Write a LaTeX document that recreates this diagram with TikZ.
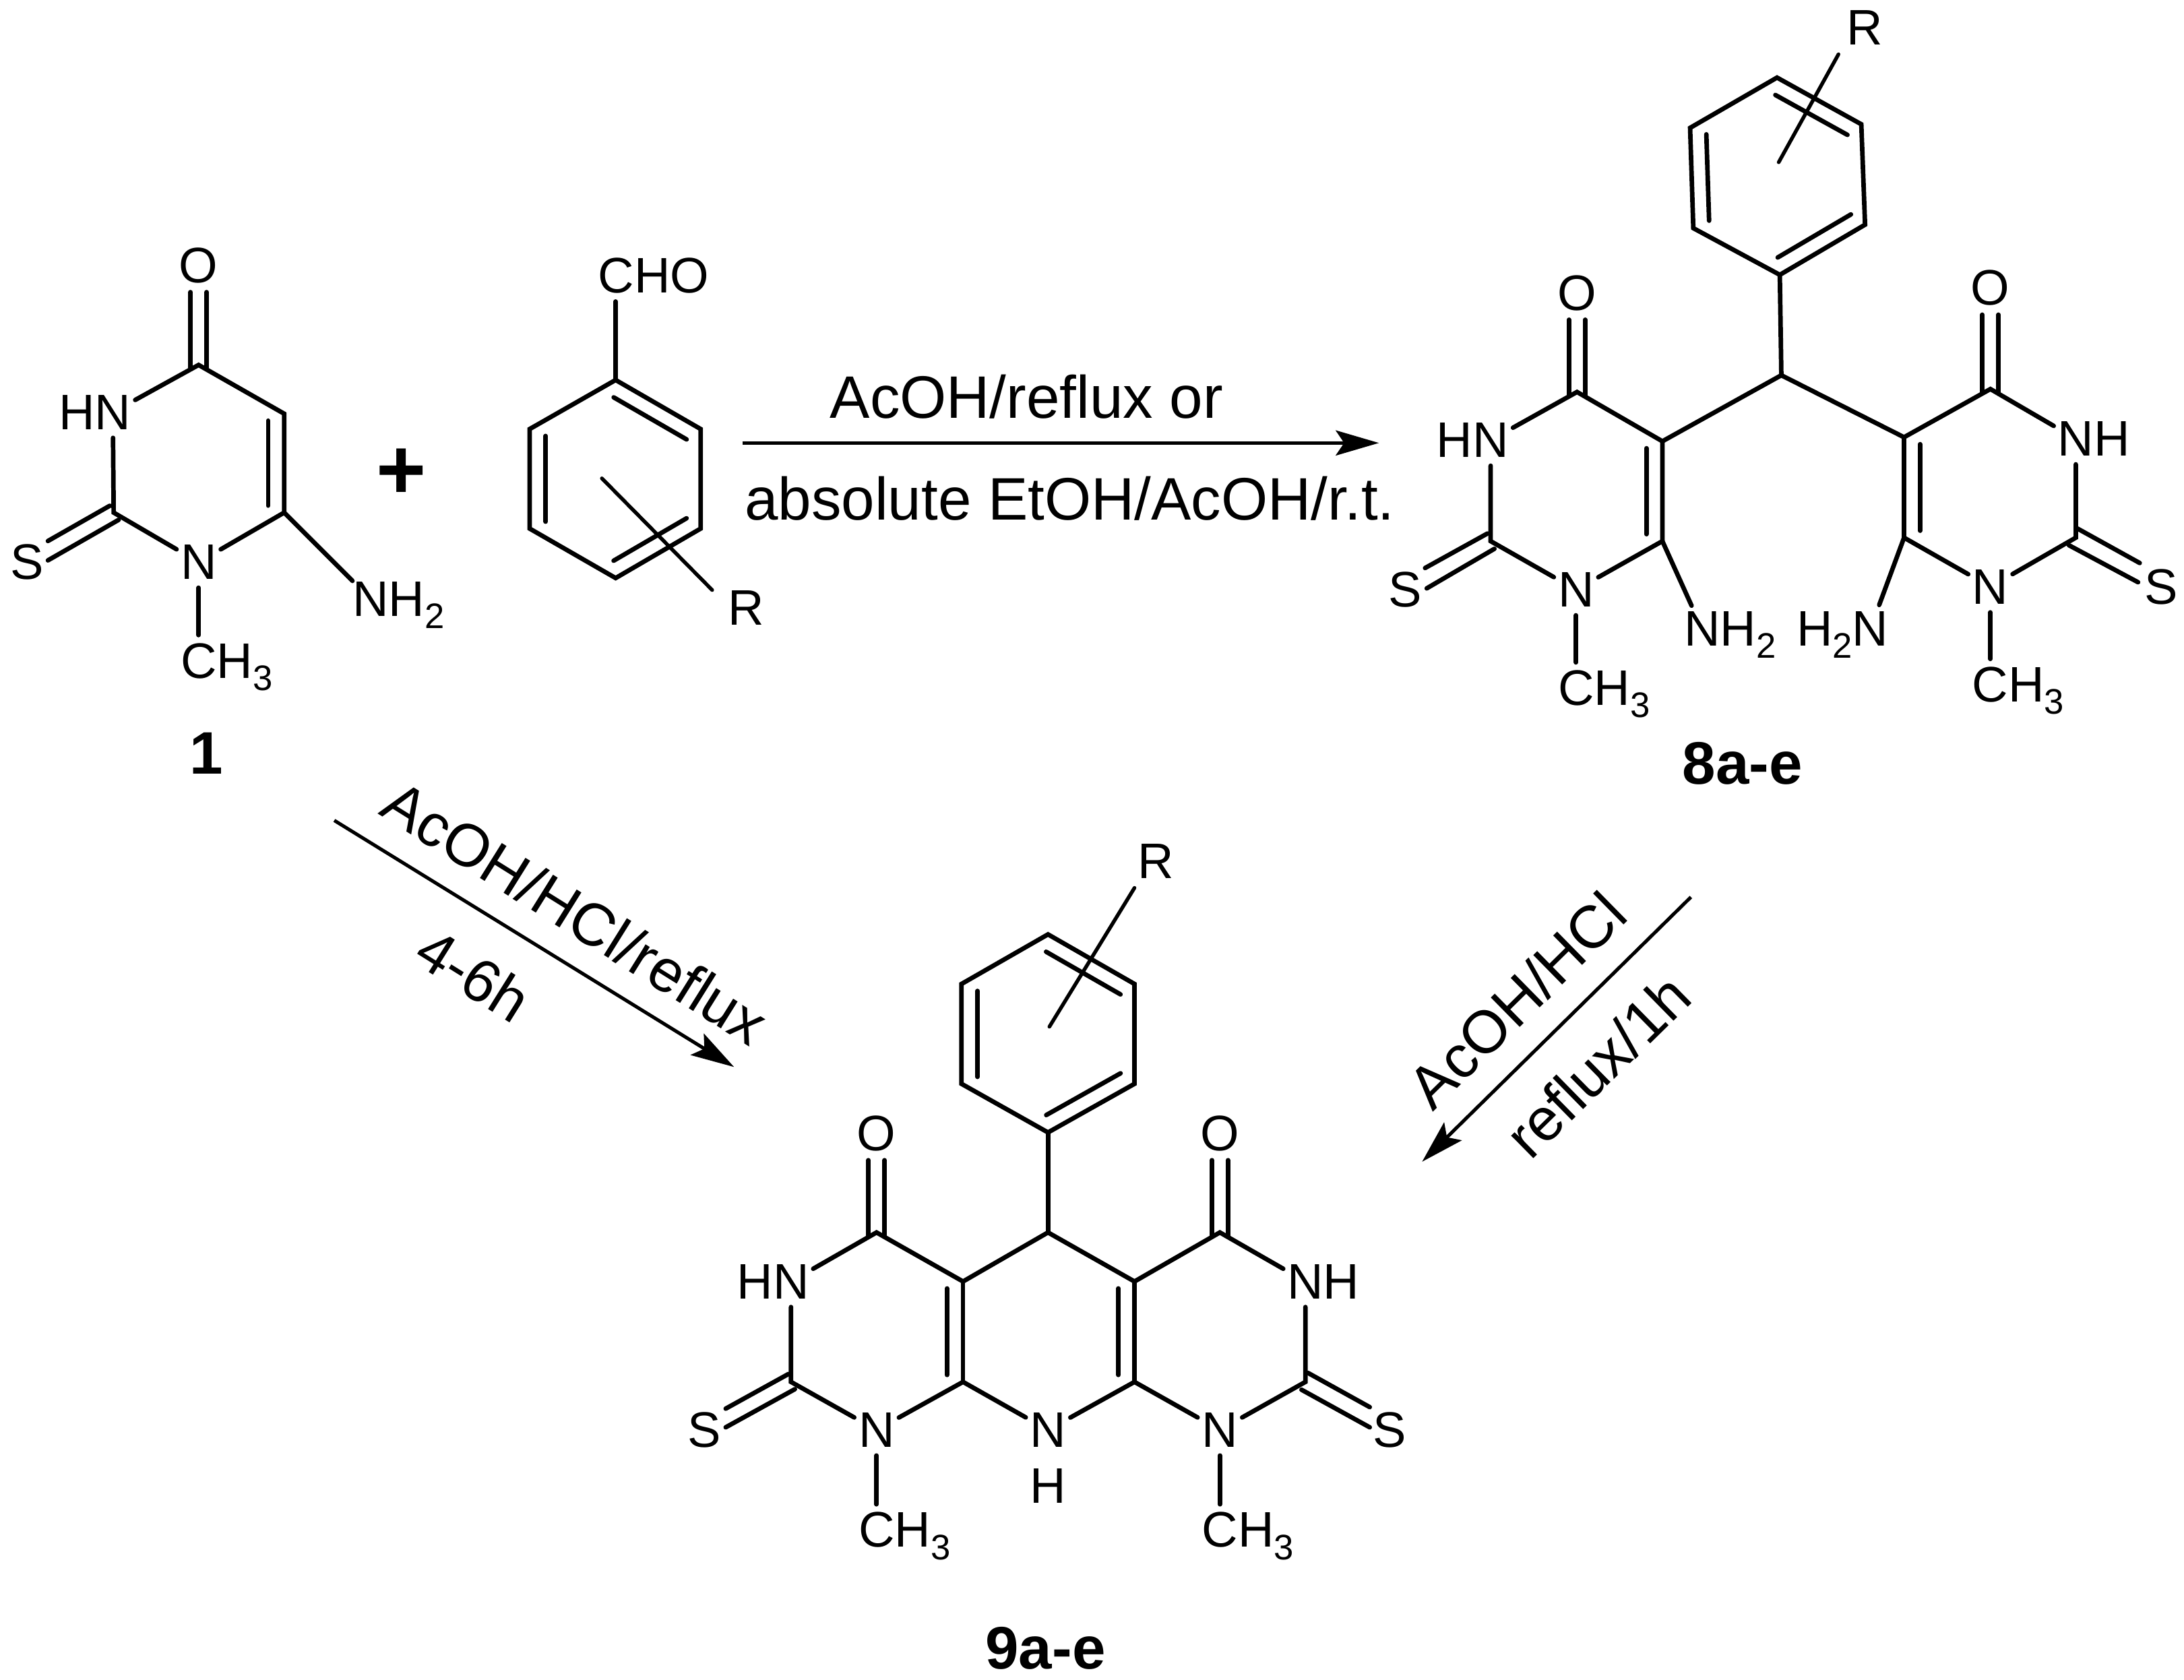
\documentclass[tikz,border=0pt]{standalone}
\usepackage{fontspec}
\setmainfont{Liberation Sans}
\usetikzlibrary{arrows.meta,calc}
\newcommand{\lowsub}[1]{\raisebox{-5pt}{\fontsize{14.5}{14.5}\selectfont #1}}
\newcommand{\innerbond}[2]{\draw[innerline] ($(#1)!0.23cm!-90:(#2)$) -- ($(#2)!0.23cm!90:(#1)$);}
\tikzset{
    atom/.style={circle, inner sep=0pt, minimum size=0.72cm, font=\fontsize{20.4}{24}\selectfont},
    bond/.style={line width=1.85pt, line cap=round},
    innerline/.style={bond, shorten <=0.1cm, shorten >=0.1cm},
    rline/.style={line width=1.5pt, line cap=round},
    reagent/.style={inner sep=0pt, font=\fontsize{24.5}{28}\selectfont},
    compound/.style={inner sep=0pt, font=\fontsize{24.5}{28}\selectfont\bfseries},
    reaction/.style={line width=1.4pt, -{Stealth[length=0.62cm, width=0.36cm, inset=0.12cm]}}
}
\begin{document}
\begin{tikzpicture}[x=0.02cm, y=-0.02cm]
    \useasboundingbox (0,0) rectangle (1568,1206.1);

    %Place compound 1
    \coordinate (one-c4) at (142.6,262);
    \coordinate (one-c5) at (204,297);
    \coordinate (one-c6) at (204,368);
    \coordinate (one-c2) at (81.6,368);
    \node[atom] (one-o) at (142.6,190.6) {O};
    \node[atom] (one-n3) at (81,296) {\llap{H}N};
    \node[atom] (one-n1) at (142.6,403.6) {N};
    \node[atom] (one-s) at (19.5,403.6) {S};
    \node[atom] (one-nh2) at (266,430) {N\smash{\rlap{H\lowsub{2}}}};
    \node[atom] (one-me) at (142.6,474.4) {C\smash{\rlap{H\lowsub{3}}}};
    \node[compound] (one-label) at (148,541) {1};

    %Draw compound 1
    \draw[bond] (one-n3) -- (one-c4) -- (one-c5) -- (one-c6) -- (one-n1);
    \draw[bond] (one-n3) -- (one-c2) -- (one-n1);
    \draw[bond] (one-c6) -- (one-nh2);
    \draw[bond] (one-n1) -- (one-me);
    \innerbond{one-c5}{one-c6}
    \draw[bond] ([shift={(-5.8,3)}]one-c4) -- ([shift={(-5.8,0)}]one-o.south);
    \draw[bond] ([shift={(5.8,3)}]one-c4) -- ([shift={(5.8,0)}]one-o.south);
    \draw[bond] ([shift={(-2.8,-4.9)}]one-c2) -- ([shift={(14.9,-15.2)}]one-s.center);
    \draw[bond] ([shift={(3.6,5.2)}]one-c2) -- ([shift={(14.9,-1.3)}]one-s.center);

    %Place plus sign
    \node[inner sep=0pt, font=\fontsize{35}{40}\selectfont\bfseries] (plus) at (288,340) {+};

    %Place aldehyde
    \coordinate (ald-c1) at (442,272.8);
    \coordinate (ald-c2) at (503,308);
    \coordinate (ald-c3) at (503,379.5);
    \coordinate (ald-c4) at (442,415);
    \coordinate (ald-c5) at (380.3,379.5);
    \coordinate (ald-c6) at (380.3,308);
    \coordinate (ald-rin) at (432.1,343.4);
    \node[atom] (ald-cho) at (442,198) {\phantom{C}\smash{\rlap{\hspace{-0.51cm}CHO}}};
    \node[atom] (ald-r) at (535.8,436.5) {R};

    %Draw aldehyde
    \draw[bond] (ald-c1) -- (ald-c2) -- (ald-c3) -- (ald-c4) -- (ald-c5) -- (ald-c6) -- cycle;
    \draw[bond] (ald-c1) -- (ald-cho);
    \innerbond{ald-c1}{ald-c2}
    \innerbond{ald-c3}{ald-c4}
    \innerbond{ald-c5}{ald-c6}
    \draw[rline] (ald-rin) -- ([shift={(-24.5,-12.9)}]ald-r.center);

    %Place arrow to compound 8
    \coordinate (top-start) at (533,318);
    \coordinate (top-end) at (990,318);
    \node[reagent] (top-upper) at (737,285) {AcOH/reflux or};
    \node[reagent] (top-lower) at (768,358) {absolute EtOH/AcOH/r.t.};
    \draw[reaction] (top-start) -- (top-end);

    %Place compound 8 phenyl ring
    \coordinate (eight-ph1) at (1275.8,55.7);
    \coordinate (eight-ph2) at (1336.3,89.2);
    \coordinate (eight-ph3) at (1339,161.3);
    \coordinate (eight-ph4) at (1277.8,197.3);
    \coordinate (eight-ph5) at (1215.7,163.8);
    \coordinate (eight-ph6) at (1213.4,91.8);
    \coordinate (eight-rin) at (1277,116.5);
    \node[atom] (eight-r) at (1339,20) {R};

    %Place compound 8 left ring
    \coordinate (eight-ch) at (1278.9,269.4);
    \coordinate (eight-c5) at (1193.5,316.8);
    \coordinate (eight-c6) at (1193.5,388.5);
    \coordinate (eight-c4) at (1132.2,281.4);
    \coordinate (eight-c2) at (1070.2,388.5);
    \node[atom] (eight-o) at (1132.2,210.4) {O};
    \node[atom] (eight-n3) at (1070.2,316) {\llap{H}N};
    \node[atom] (eight-s) at (1008.6,423.4) {S};
    \node[atom] (eight-n1) at (1131.5,423.4) {N};
    \node[atom] (eight-nh2) at (1222,451.5) {N\smash{\rlap{H\lowsub{2}}}};
    \node[atom] (eight-me) at (1131.5,494) {C\smash{\rlap{H\lowsub{3}}}};

    %Place compound 8 right ring
    \coordinate (eight-c5r) at (1367,313.9);
    \coordinate (eight-c6r) at (1367,386);
    \coordinate (eight-c4r) at (1429,279.3);
    \coordinate (eight-c2r) at (1490.3,386);
    \node[atom] (eight-or) at (1429,206.8) {O};
    \node[atom] (eight-n3r) at (1490.3,315) {N\rlap{H}};
    \node[atom] (eight-sr) at (1551.5,421.3) {S};
    \node[atom] (eight-n1r) at (1429,421.3) {N};
    \node[atom] (eight-nh2r) at (1342.8,451.5) {\smash{\llap{H\lowsub{2}}}N};
    \node[atom] (eight-mer) at (1429,491.5) {C\smash{\rlap{H\lowsub{3}}}};
    \node[compound] (eight-label) at (1251,548) {8a-e};

    %Draw compound 8
    \draw[bond] (eight-ph1) -- (eight-ph2) -- (eight-ph3) -- (eight-ph4) -- (eight-ph5) -- (eight-ph6) -- cycle;
    \innerbond{eight-ph1}{eight-ph2}
    \innerbond{eight-ph3}{eight-ph4}
    \innerbond{eight-ph5}{eight-ph6}
    \draw[rline] (eight-rin) -- ([shift={(-19.1,19)}]eight-r.center);
    \draw[bond] (eight-ph4) -- (eight-ch);
    \draw[bond] (eight-c5) -- (eight-ch) -- (eight-c5r);
    \draw[bond] (eight-n3) -- (eight-c4) -- (eight-c5) -- (eight-c6) -- (eight-n1);
    \draw[bond] (eight-n3) -- (eight-c2) -- (eight-n1);
    \draw[bond] (eight-c6) -- (eight-nh2);
    \draw[bond] (eight-n1) -- (eight-me);
    \innerbond{eight-c5}{eight-c6}
    \draw[bond] ([shift={(-5.8,3)}]eight-c4) -- ([shift={(-5.8,0)}]eight-o.south);
    \draw[bond] ([shift={(5.8,3)}]eight-c4) -- ([shift={(5.8,0)}]eight-o.south);
    \draw[bond] ([shift={(-2.3,-5.5)}]eight-c2) -- ([shift={(14.5,-15.6)}]eight-s.center);
    \draw[bond] ([shift={(2.7,5.5)}]eight-c2) -- ([shift={(15.7,-1)}]eight-s.center);
    \draw[bond] (eight-n3r) -- (eight-c4r) -- (eight-c5r) -- (eight-c6r) -- (eight-n1r);
    \draw[bond] (eight-n3r) -- (eight-c2r) -- (eight-n1r);
    \draw[bond] (eight-c6r) -- (eight-nh2r);
    \draw[bond] (eight-n1r) -- (eight-mer);
    \innerbond{eight-c6r}{eight-c5r}
    \draw[bond] ([shift={(-5.8,3)}]eight-c4r) -- ([shift={(-5.8,0)}]eight-or.south);
    \draw[bond] ([shift={(5.8,3)}]eight-c4r) -- ([shift={(5.8,0)}]eight-or.south);
    \draw[bond] ([shift={(1.1,-6.6)}]eight-c2r) -- ([shift={(-15.3,-17.1)}]eight-sr.center);
    \draw[bond] ([shift={(-5,5.4)}]eight-c2r) -- ([shift={(-16.5,-3.3)}]eight-sr.center);

    %Place arrow from compound 1 to compound 9
    \coordinate (left-start) at (240,589);
    \coordinate (left-end) at (527,766);
    \node[reagent, rotate=-32] (left-upper) at (413,655) {AcOH/HCl/reflux};
    \node[reagent, rotate=-32] (left-lower) at (340,700) {4-6h};
    \draw[reaction] (left-start) -- (left-end);

    %Place arrow from compound 8 to compound 9
    \coordinate (right-start) at (1214,644);
    \coordinate (right-end) at (1021,834);
    \node[reagent, rotate=44.5] (right-upper) at (1089,718) {AcOH/HCl};
    \node[reagent, rotate=44.5] (right-lower) at (1147,765) {reflux/1h};
    \draw[reaction] (right-start) -- (right-end);

    %Place compound 9 phenyl ring
    \coordinate (nine-ph1) at (752.4,670.8);
    \coordinate (nine-ph2) at (814.5,706.4);
    \coordinate (nine-ph3) at (814.5,778.1);
    \coordinate (nine-ph4) at (752.4,813);
    \coordinate (nine-ph5) at (690.3,778.1);
    \coordinate (nine-ph6) at (690.3,706.4);
    \coordinate (nine-rin) at (753.4,737.1);
    \node[atom] (nine-r) at (829.7,618.2) {R};

    %Place compound 9 fused rings
    \coordinate (nine-ch) at (752.4,884.8);
    \coordinate (nine-c4a) at (691.4,920);
    \coordinate (nine-c8a) at (691.4,992.1);
    \coordinate (nine-c5a) at (814.5,920);
    \coordinate (nine-c9a) at (814.5,992.1);
    \coordinate (nine-c4) at (629.3,884.8);
    \coordinate (nine-c2) at (567.9,992.1);
    \coordinate (nine-c4r) at (875.8,884.8);
    \coordinate (nine-c2r) at (937.2,992.1);
    \node[atom] (nine-o) at (629.3,813.8) {O};
    \node[atom] (nine-n3) at (567.9,920) {\llap{H}N};
    \node[atom] (nine-s) at (505.8,1026.6) {S};
    \node[atom] (nine-n1) at (629.3,1026.6) {N};
    \node[atom] (nine-me) at (629.3,1098.4) {C\smash{\rlap{H\lowsub{3}}}};
    \node[atom] (nine-nc) at (752.4,1026.6) {N};
    \node[atom] (nine-h) at (752.4,1067) {H};
    \node[atom] (nine-or) at (875.8,813.8) {O};
    \node[atom] (nine-n3r) at (937.2,920) {N\rlap{H}};
    \node[atom] (nine-sr) at (997.5,1026.6) {S};
    \node[atom] (nine-n1r) at (875.8,1026.6) {N};
    \node[atom] (nine-mer) at (875.8,1098.4) {C\smash{\rlap{H\lowsub{3}}}};
    \node[compound] (nine-label) at (750.6,1183.5) {9a-e};

    %Draw compound 9
    \draw[bond] (nine-ph1) -- (nine-ph2) -- (nine-ph3) -- (nine-ph4) -- (nine-ph5) -- (nine-ph6) -- cycle;
    \innerbond{nine-ph1}{nine-ph2}
    \innerbond{nine-ph3}{nine-ph4}
    \innerbond{nine-ph5}{nine-ph6}
    \draw[rline] (nine-rin) -- ([shift={(-15.2,19.2)}]nine-r.center);
    \draw[bond] (nine-ph4) -- (nine-ch);
    \draw[bond] (nine-n3) -- (nine-c4) -- (nine-c4a) -- (nine-ch) -- (nine-c5a) -- (nine-c4r) -- (nine-n3r);
    \draw[bond] (nine-n3) -- (nine-c2) -- (nine-n1) -- (nine-c8a) -- (nine-nc) -- (nine-c9a) -- (nine-n1r) -- (nine-c2r) -- (nine-n3r);
    \draw[bond] (nine-c4a) -- (nine-c8a);
    \draw[bond] (nine-c5a) -- (nine-c9a);
    \draw[bond] (nine-n1) -- (nine-me);
    \draw[bond] (nine-n1r) -- (nine-mer);
    \innerbond{nine-c4a}{nine-c8a}
    \innerbond{nine-c5a}{nine-c9a}
    \draw[bond] ([shift={(-5.8,3)}]nine-c4) -- ([shift={(-5.8,0)}]nine-o.south);
    \draw[bond] ([shift={(5.8,3)}]nine-c4) -- ([shift={(5.8,0)}]nine-o.south);
    \draw[bond] ([shift={(-5.8,3)}]nine-c4r) -- ([shift={(-5.8,0)}]nine-or.south);
    \draw[bond] ([shift={(5.8,3)}]nine-c4r) -- ([shift={(5.8,0)}]nine-or.south);
    \draw[bond] ([shift={(-1.8,-5.7)}]nine-c2) -- ([shift={(15.2,-15.3)}]nine-s.center);
    \draw[bond] ([shift={(2.8,5.2)}]nine-c2) -- ([shift={(15.2,-1.9)}]nine-s.center);
    \draw[bond] ([shift={(1.8,-6.5)}]nine-c2r) -- ([shift={(-14.1,-16.4)}]nine-sr.center);
    \draw[bond] ([shift={(-2.8,5.6)}]nine-c2r) -- ([shift={(-14.1,-1.9)}]nine-sr.center);
\end{tikzpicture}
\end{document}
